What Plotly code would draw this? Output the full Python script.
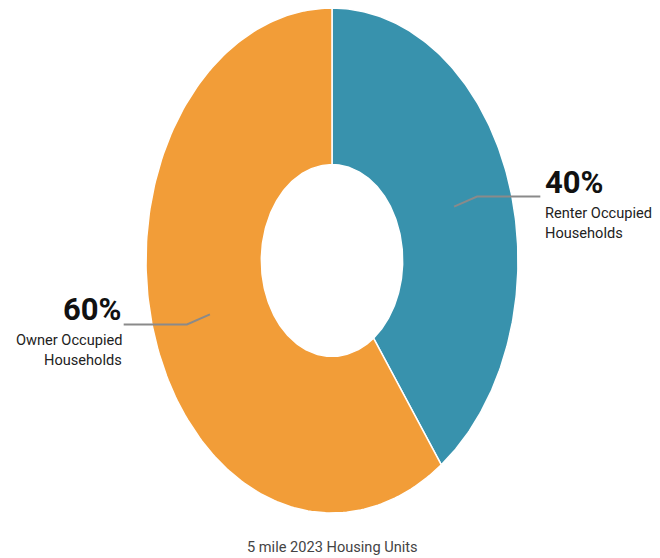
import numpy as np
import plotly.graph_objects as go

# Housing tenure shares (percent of housing units)
categories = ["Renter Occupied<br>Households", "Owner Occupied<br>Households"]
shares = [40, 60]
slice_colors = ["#3892AD", "#F29D38"]
caption = "5 mile 2023 Housing Units"

HOLE = 0.38
W, H = 660, 558
CX, CY = 332, 260.5      # ring centre (px)
RX, RY = 186, 252.5      # outer radii (px)
FONT = "Liberation Sans Narrow, Arial Narrow, Roboto, sans-serif"
LINE_GAP = 20            # px between label lines

fig = go.Figure()

total = float(sum(shares))
start = 0.0
mids = []
for name, val, col in zip(categories, shares, slice_colors):
    a0 = start
    a1 = start + 360.0 * val / total
    start = a1
    mids.append(np.radians((a0 + a1) / 2))
    t = np.radians(np.linspace(a0, a1, 200))
    xo, yo = np.sin(t), np.cos(t)
    xi, yi = HOLE * np.sin(t[::-1]), HOLE * np.cos(t[::-1])
    fig.add_trace(go.Scatter(
        x=np.concatenate([xo, xi, xo[:1]]),
        y=np.concatenate([yo, yi, yo[:1]]),
        mode="lines", fill="toself", fillcolor=col,
        line=dict(color="white", width=1.5),
        hoverinfo="skip", showlegend=False,
    ))

# leader lines and labels
for name, val, m in zip(categories, shares, mids):
    sx, sy = 0.69 * np.sin(m), 0.69 * np.cos(m)
    ex, ey = 0.82 * np.sin(m), 0.82 * np.cos(m)
    side = 1 if np.sin(m) > 0 else -1
    hx = side * 1.12
    fig.add_trace(go.Scatter(
        x=[sx, ex, hx], y=[sy, ey, ey], mode="lines",
        line=dict(color="#8a8a8a", width=2),
        hoverinfo="skip", showlegend=False,
    ))
    anchor = "left" if side > 0 else "right"
    tx = hx + side * (0.015 if side > 0 else 0.0)
    fig.add_annotation(
        x=tx, y=ey, xref="x", yref="y", text=f"<b>{val}%</b>",
        showarrow=False, xanchor=anchor, yanchor="bottom", yshift=-6,
        font=dict(family=FONT, size=31, color="#111111"),
    )
    for i, part in enumerate(name.split("<br>")):
        fig.add_annotation(
            x=tx, y=ey, xref="x", yref="y", text=part,
            showarrow=False, xanchor=anchor, yanchor="top",
            yshift=-5 - i * LINE_GAP,
            font=dict(family=FONT, size=14.6, color="#222222"),
        )

fig.add_annotation(
    x=0, y=-1.135, xref="x", yref="y", text=caption, showarrow=False,
    xanchor="center", yanchor="middle",
    font=dict(family=FONT, size=14.6, color="#444444"),
)

xr = [-CX / RX, (W - CX) / RX]
yr = [-(H - CY) / RY, CY / RY]
fig.update_xaxes(range=xr, domain=[0, 1], visible=False, fixedrange=True)
fig.update_yaxes(range=yr, domain=[0, 1], visible=False, fixedrange=True)
fig.update_layout(
    width=W, height=H, margin=dict(l=0, r=0, t=0, b=0),
    paper_bgcolor="white", plot_bgcolor="white",
)

fig.write_html("out.html")
